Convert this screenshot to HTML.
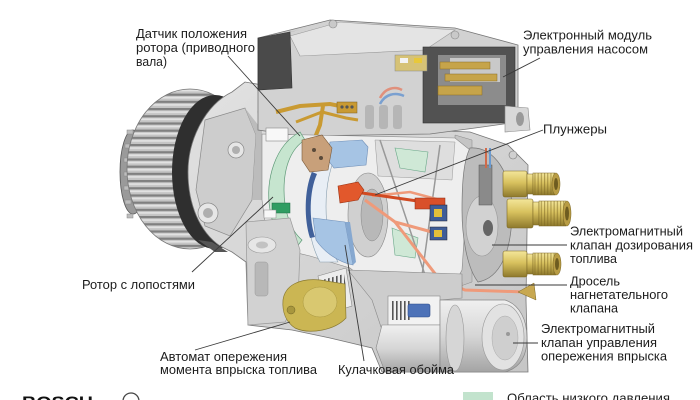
<!DOCTYPE html>
<html><head><meta charset="utf-8">
<style>
html,body{margin:0;padding:0;background:#fff;}
svg{display:block;}
text{font-family:"Liberation Sans","DejaVu Sans",sans-serif;font-size:13px;fill:#1c1c1c;}
</style></head><body>
<svg width="700" height="400" viewBox="0 0 700 400" xmlns="http://www.w3.org/2000/svg">
<defs>
<pattern id="teeth" patternUnits="userSpaceOnUse" width="300" height="7.2">
<rect width="300" height="7.2" fill="#c4c4c4"/>
<rect y="0" width="300" height="2.2" fill="#808080"/>
<rect y="3.2" width="300" height="1.8" fill="#e2e2e2"/>
</pattern>
<pattern id="thr" patternUnits="userSpaceOnUse" width="3.2" height="60">
<rect width="1.1" height="60" fill="#7c6622" opacity="0.55"/>
</pattern>
<pattern id="spr" patternUnits="userSpaceOnUse" width="4" height="60">
<rect width="1.6" height="60" fill="#555"/>
</pattern>
<linearGradient id="brass" x1="0" y1="0" x2="0" y2="1">
<stop offset="0" stop-color="#f3e69a"/>
<stop offset="0.45" stop-color="#d8c15e"/>
<stop offset="1" stop-color="#8e792c"/>
</linearGradient>
<linearGradient id="cyl" x1="0" y1="0" x2="0" y2="1">
<stop offset="0" stop-color="#f0f0f0"/>
<stop offset="0.5" stop-color="#d6d6d6"/>
<stop offset="1" stop-color="#a4a4a4"/>
</linearGradient>
<linearGradient id="hous" x1="0" y1="0" x2="1" y2="1">
<stop offset="0" stop-color="#e2e2e2"/>
<stop offset="1" stop-color="#c6c6c6"/>
</linearGradient>
</defs>

<!-- gear -->
<ellipse cx="133" cy="172" rx="13" ry="42" fill="#9a9a9a" stroke="#555" stroke-width="0.8"/>
<g fill="#bdbdbd" stroke="#888" stroke-width="0.5">
<rect x="127" y="130" width="6" height="4"/><rect x="125" y="144" width="6" height="4"/>
<rect x="124" y="158" width="6" height="4"/><rect x="124" y="172" width="6" height="4"/>
<rect x="124" y="186" width="6" height="4"/><rect x="125" y="200" width="6" height="4"/>
<rect x="127" y="214" width="6" height="4"/>
</g>
<ellipse cx="190" cy="169" rx="63" ry="80" fill="url(#teeth)" stroke="#777" stroke-width="0.8"/>
<ellipse cx="215" cy="172" rx="43" ry="77" fill="#2f2f2f"/>

<!-- main housing -->
<path d="M232,92 C205,105 188,140 188,172 C188,205 200,232 220,246 L232,252 L246,262 L248,325 L292,330 L330,338 L372,348 L382,372 L528,372 L526,300 L528,165 L508,145 L470,132 L420,130 L262,128 L262,85 L245,82 Z" fill="url(#hous)" stroke="#777" stroke-width="0.8"/>
<path d="M205,120 L245,108 L256,135 L252,200 L230,236 L205,226 L196,190 Z" fill="#cdcdcd" stroke="#8a8a8a" stroke-width="0.7"/>
<path d="M245,108 L256,135 L252,200 L262,200 L262,130 Z" fill="#bcbcbc"/>
<circle cx="236" cy="150" r="8" fill="#e6e6e6" stroke="#888" stroke-width="0.7"/>
<circle cx="236" cy="150" r="4" fill="#b0b0b0"/>
<circle cx="208" cy="213" r="10" fill="#e6e6e6" stroke="#888" stroke-width="0.7"/>
<circle cx="208" cy="213" r="5" fill="#aeaeae"/>
<circle cx="262" cy="112" r="4" fill="#cfcfcf" stroke="#777" stroke-width="0.7"/>
<path d="M198,240 L215,252 L228,252 L212,242 Z" fill="#555"/>
<path d="M455,135 L472,140 L472,282 L455,288 Z" fill="#c4c4c4" stroke="#888" stroke-width="0.5"/>

<!-- top module -->
<path d="M258,38 L330,20 L455,28 L518,45 L518,122 L475,128 L430,134 L300,136 L258,130 Z" fill="#d2d2d2" stroke="#777" stroke-width="0.8"/>
<path d="M290,36 L340,22 L455,30 L425,50 L300,56 Z" fill="#e4e4e4" stroke="#999" stroke-width="0.6"/>
<path d="M258,38 L290,32 L292,88 L258,90 Z" fill="#4a4a4a" stroke="#333" stroke-width="0.6"/>
<path d="M258,38 L290,32 L300,30 L268,36 Z" fill="#6a6a6a"/>
<rect x="423" y="47" width="92" height="76" fill="#525252" stroke="#333" stroke-width="0.6"/>
<rect x="438" y="55" width="68" height="50" fill="#8c8c8c"/>
<rect x="450" y="58" width="50" height="24" fill="#c9c9c9"/>
<rect x="440" y="62" width="50" height="7" fill="#c6a44a" stroke="#8a6f24" stroke-width="0.5"/>
<rect x="445" y="74" width="52" height="7" fill="#c6a44a" stroke="#8a6f24" stroke-width="0.5"/>
<rect x="438" y="86" width="44" height="9" fill="#c6a44a" stroke="#8a6f24" stroke-width="0.5"/>
<rect x="395" y="55" width="32" height="16" fill="#d6c276" stroke="#888" stroke-width="0.5"/>
<rect x="400" y="58" width="8" height="5" fill="#f3f3f3"/>
<rect x="414" y="58" width="8" height="5" fill="#e8c83a"/>
<path d="M380,98 C385,88 395,86 402,90" fill="none" stroke="#e0907c" stroke-width="2.5"/>
<path d="M380,104 C385,94 395,92 404,96" fill="none" stroke="#7aa0d0" stroke-width="2.5"/>
<rect x="365" y="105" width="9" height="24" rx="3" fill="#b6b6b6"/>
<rect x="379" y="105" width="9" height="24" rx="3" fill="#b6b6b6"/>
<rect x="393" y="105" width="9" height="24" rx="3" fill="#b6b6b6"/>
<circle cx="333" cy="24" r="4" fill="#c9c9c9" stroke="#888" stroke-width="0.6"/>
<circle cx="455" cy="35" r="4" fill="#c9c9c9" stroke="#888" stroke-width="0.6"/>
<path d="M505,106 L528,108 L530,130 L505,132 Z" fill="#d8d8d8" stroke="#888" stroke-width="0.6"/>
<ellipse cx="520" cy="119" rx="4" ry="7" fill="#999"/>

<!-- brass strips -->
<polyline points="276,112 300,106 330,104 350,108" fill="none" stroke="#c99a32" stroke-width="4"/>
<polyline points="296,122 322,112 346,118 358,120" fill="none" stroke="#c99a32" stroke-width="3"/>
<polyline points="323,106 320,125 314,140" fill="none" stroke="#c99a32" stroke-width="4"/>
<rect x="337" y="102" width="20" height="11" fill="#c99a32" stroke="#7a5e20" stroke-width="0.5"/>
<circle cx="342" cy="107" r="1.6" fill="#555"/><circle cx="347" cy="107" r="1.6" fill="#555"/><circle cx="352" cy="107" r="1.6" fill="#555"/>

<!-- cavity -->
<path d="M262,134 L455,138 L470,150 L462,270 L450,292 L380,292 L350,268 L310,256 L268,246 L262,200 Z" fill="#eeeeee" stroke="#888" stroke-width="0.6"/>
<path d="M375,140 L455,142 L452,180 L378,176 Z" fill="#dedede" stroke="#999" stroke-width="0.5"/>
<path d="M300,132 C275,145 265,180 270,210 C273,230 283,243 296,248 L302,240 C290,230 284,210 284,190 C284,165 292,148 305,140 Z" fill="#c6e5cf" stroke="#5f9a78" stroke-width="0.7"/>
<rect x="266" y="128" width="22" height="13" fill="#f8f8f8" stroke="#888" stroke-width="0.6"/>
<rect x="272" y="203" width="18" height="10" fill="#2f9d62" stroke="#1f6a42" stroke-width="0.5"/>
<rect x="264" y="210" width="12" height="8" fill="#f8f8f8" stroke="#888" stroke-width="0.5"/>
<path d="M322,150 C305,170 302,230 320,262 L338,262 C322,235 322,178 338,152 Z" fill="#e8eef5" stroke="#8aa0b0" stroke-width="0.6"/>
<path d="M312,172 C304,190 304,220 310,238 L315,237 C309,220 309,192 317,174 Z" fill="#40609a"/>
<ellipse cx="368" cy="215" rx="20" ry="42" fill="#d0d0d0" stroke="#888" stroke-width="0.6"/>
<ellipse cx="372" cy="215" rx="11" ry="26" fill="#b8b8b8" stroke="#888" stroke-width="0.5"/>
<path d="M330,142 L362,140 L368,147 L366,165 L334,168 L328,160 Z" fill="#a6c4e4" stroke="#6f8fb8" stroke-width="0.6"/>
<path d="M313,218 L345,222 L353,265 C338,262 324,252 316,240 Z" fill="#a6c4e4" stroke="#6f8fb8" stroke-width="0.6"/>
<path d="M345,222 L350,222 L356,262 L353,265 Z" fill="#86a8d0"/>
<path d="M302,140 L322,135 L332,148 L328,170 L310,172 L302,160 Z" fill="#c8a07a" stroke="#7a5a3a" stroke-width="0.6"/>
<circle cx="314" cy="150" r="2" fill="#5a4a3a"/><circle cx="321" cy="158" r="2" fill="#5a4a3a"/>
<path d="M395,148 L428,152 L425,172 L400,168 Z" fill="#cfe8d6" stroke="#6aa889" stroke-width="0.6"/>
<path d="M392,228 L418,238 L415,258 L395,255 Z" fill="#cfe8d6" stroke="#6aa889" stroke-width="0.6"/>
<line x1="380" y1="140" x2="430" y2="290" stroke="#999" stroke-width="1.5"/>
<line x1="440" y1="145" x2="420" y2="290" stroke="#999" stroke-width="1.5"/>
<polyline points="365,200 395,222 432,232" fill="none" stroke="#ef9a7a" stroke-width="3"/>
<polyline points="395,222 440,280 465,290 525,292" fill="none" stroke="#ef9a7a" stroke-width="3"/>
<polyline points="372,196 410,192 440,200" fill="none" stroke="#ef9a7a" stroke-width="2.5"/>
<line x1="362" y1="193" x2="445" y2="205" stroke="#d14a22" stroke-width="3"/>
<rect x="415" y="198" width="30" height="11" fill="#d9502a" stroke="#8a2a10" stroke-width="0.5"/>
<path d="M338,186 L358,182 L364,190 L358,200 L340,203 Z" fill="#e2582c" stroke="#9a3010" stroke-width="0.6"/>
<rect x="430" y="205" width="17" height="16" fill="#3f5d98" stroke="#223" stroke-width="0.5"/>
<rect x="430" y="227" width="17" height="13" fill="#3f5d98" stroke="#223" stroke-width="0.5"/>
<rect x="434" y="209" width="8" height="8" fill="#e2bf3a"/>
<rect x="434" y="230" width="8" height="7" fill="#e2bf3a"/>
<rect x="440" y="280" width="22" height="12" rx="3" fill="#dc8c60" stroke="#8a4a28" stroke-width="0.5"/>
<rect x="444" y="282" width="14" height="8" fill="url(#spr)"/>

<!-- flange -->
<path d="M470,148 C495,146 512,175 512,210 C512,252 500,278 478,282 C466,266 462,234 462,210 C462,180 464,160 470,148 Z" fill="#bcbcbc" stroke="#777" stroke-width="0.7"/>
<ellipse cx="482" cy="226" rx="16" ry="30" fill="#d2d2d2" stroke="#999" stroke-width="0.6"/>
<ellipse cx="488" cy="228" rx="5" ry="8" fill="#666"/>
<rect x="479" y="165" width="13" height="40" fill="#8a8a8a" stroke="#555" stroke-width="0.5"/>
<line x1="486" y1="148" x2="486" y2="168" stroke="#d06a4a" stroke-width="2"/>
<line x1="490" y1="148" x2="490" y2="168" stroke="#6a9ad0" stroke-width="2"/>
<circle cx="513" cy="155" r="4" fill="#d0d0d0" stroke="#777" stroke-width="0.6"/>

<!-- fittings -->
<rect x="503" y="171" width="24" height="26" rx="2" fill="url(#brass)" stroke="#7a6624" stroke-width="0.6"/>
<rect x="527" y="174" width="6" height="20" fill="url(#brass)" stroke="#7a6624" stroke-width="0.5"/>
<rect x="533" y="173" width="22" height="22" fill="url(#brass)" stroke="#7a6624" stroke-width="0.5"/>
<rect x="533" y="173" width="22" height="22" fill="url(#thr)"/>
<ellipse cx="556" cy="184" rx="4" ry="11" fill="#b89c44" stroke="#7a6624" stroke-width="0.5"/>
<ellipse cx="556" cy="184" rx="2" ry="6" fill="#6e5c20"/>

<rect x="507" y="199" width="26" height="29" rx="2" fill="url(#brass)" stroke="#7a6624" stroke-width="0.6"/>
<rect x="533" y="202" width="6" height="23" fill="url(#brass)" stroke="#7a6624" stroke-width="0.5"/>
<rect x="539" y="201" width="27" height="25" fill="url(#brass)" stroke="#7a6624" stroke-width="0.5"/>
<rect x="539" y="201" width="27" height="25" fill="url(#thr)"/>
<ellipse cx="567" cy="213.5" rx="4" ry="12.5" fill="#b89c44" stroke="#7a6624" stroke-width="0.5"/>
<ellipse cx="567" cy="213.5" rx="2" ry="7" fill="#6e5c20"/>

<rect x="503" y="251" width="24" height="26" rx="2" fill="url(#brass)" stroke="#7a6624" stroke-width="0.6"/>
<rect x="527" y="254" width="6" height="20" fill="url(#brass)" stroke="#7a6624" stroke-width="0.5"/>
<rect x="533" y="253" width="23" height="22" fill="url(#brass)" stroke="#7a6624" stroke-width="0.5"/>
<rect x="533" y="253" width="23" height="22" fill="url(#thr)"/>
<ellipse cx="557" cy="264" rx="4" ry="11" fill="#b89c44" stroke="#7a6624" stroke-width="0.5"/>
<ellipse cx="557" cy="264" rx="2" ry="6" fill="#6e5c20"/>
<path d="M518,292 L534,283 L536,300 Z" fill="#c8a850" stroke="#7a6624" stroke-width="0.5"/>

<!-- bottom -->
<path d="M348,270 L462,274 L462,298 L440,300 L440,330 L382,330 L372,300 Z" fill="#cdcdcd" stroke="#888" stroke-width="0.6"/>
<rect x="388" y="296" width="52" height="29" fill="#f2f2f2" stroke="#888" stroke-width="0.6"/>
<rect x="392" y="301" width="18" height="19" fill="url(#spr)"/>
<rect x="408" y="304" width="22" height="13" rx="2" fill="#4d72b8" stroke="#2d4a88" stroke-width="0.6"/>
<path d="M382,325 L440,325 L440,372 L385,372 L376,348 Z" fill="url(#cyl)" stroke="#888" stroke-width="0.6"/>
<path d="M440,300 L505,300 C520,305 527,320 527,338 C527,356 520,368 505,372 L440,372 Z" fill="url(#cyl)" stroke="#888" stroke-width="0.7"/>
<ellipse cx="455" cy="338" rx="9" ry="33" fill="#d6d6d6" stroke="#999" stroke-width="0.6"/>
<ellipse cx="503" cy="337" rx="21" ry="33" fill="#e2e2e2" stroke="#999" stroke-width="0.6"/>
<ellipse cx="505" cy="338" rx="13" ry="22" fill="#cfcfcf" stroke="#aaa" stroke-width="0.5"/>
<circle cx="508" cy="334" r="2" fill="#999"/>

<!-- bracket -->
<path d="M246,222 L290,218 L300,250 L298,300 L285,322 L248,325 Z" fill="#d2d2d2" stroke="#999" stroke-width="0.7"/>
<ellipse cx="262" cy="245" rx="14" ry="8" fill="#e6e6e6" stroke="#999" stroke-width="0.6"/>
<ellipse cx="262" cy="245" rx="6" ry="3.5" fill="#c2c2c2"/>
<rect x="255" y="262" width="13" height="34" rx="3" fill="#b8b8b8" stroke="#999" stroke-width="0.5"/>

<!-- spring & advance -->
<path d="M318,276 L346,268 L352,306 L326,314 Z" fill="#ececec" stroke="#888" stroke-width="0.6"/>
<path d="M322,280 L344,274 L348,302 L328,308 Z" fill="url(#spr)"/>
<path d="M283,300 C285,285 300,278 320,280 L345,284 L346,318 C335,330 310,335 295,328 C286,322 282,312 283,300 Z" fill="#cbb653" stroke="#8a7a30" stroke-width="0.7"/>
<ellipse cx="320" cy="302" rx="17" ry="15" fill="#d9c870" stroke="#a8963e" stroke-width="0.5"/>
<circle cx="291" cy="310" r="4" fill="#a8963e" stroke="#6e6224" stroke-width="0.5"/>

<!-- leader lines -->
<g stroke="#3a3a3a" stroke-width="0.9" fill="none">
<line x1="228" y1="56" x2="300" y2="136"/>
<line x1="540" y1="58" x2="503" y2="77"/>
<line x1="543" y1="130" x2="375" y2="195"/>
<line x1="192" y1="272" x2="273" y2="197"/>
<line x1="195" y1="350" x2="290" y2="322"/>
<line x1="345" y1="245" x2="364" y2="361"/>
<line x1="492" y1="245" x2="567" y2="245"/>
<line x1="475" y1="285" x2="567" y2="285"/>
<line x1="513" y1="343" x2="538" y2="343"/>
</g>

<!-- labels -->
<text x="136" y="38" textLength="111" lengthAdjust="spacingAndGlyphs">Датчик положения</text>
<text x="136" y="52" textLength="119" lengthAdjust="spacingAndGlyphs">ротора (приводного</text>
<text x="136" y="66" textLength="31" lengthAdjust="spacingAndGlyphs">вала)</text>
<text x="523" y="39.5" textLength="129" lengthAdjust="spacingAndGlyphs">Электронный модуль</text>
<text x="523" y="53.5" textLength="125" lengthAdjust="spacingAndGlyphs">управления насосом</text>
<text x="543" y="133.5" textLength="64" lengthAdjust="spacingAndGlyphs">Плунжеры</text>
<text x="82" y="289" textLength="113" lengthAdjust="spacingAndGlyphs">Ротор с лопостями</text>
<text x="160" y="361" textLength="127" lengthAdjust="spacingAndGlyphs">Автомат опережения</text>
<text x="160" y="374" textLength="157" lengthAdjust="spacingAndGlyphs">момента впрыска топлива</text>
<text x="338" y="374" textLength="116" lengthAdjust="spacingAndGlyphs">Кулачковая обойма</text>
<text x="570" y="235.5" textLength="113" lengthAdjust="spacingAndGlyphs">Электромагнитный</text>
<text x="570" y="249.5" textLength="123" lengthAdjust="spacingAndGlyphs">клапан дозирования</text>
<text x="570" y="263" textLength="47" lengthAdjust="spacingAndGlyphs">топлива</text>
<text x="570" y="285.5" textLength="50" lengthAdjust="spacingAndGlyphs">Дросель</text>
<text x="570" y="299" textLength="98" lengthAdjust="spacingAndGlyphs">нагнетательного</text>
<text x="570" y="312.5" textLength="48" lengthAdjust="spacingAndGlyphs">клапана</text>
<text x="541" y="333" textLength="114" lengthAdjust="spacingAndGlyphs">Электромагнитный</text>
<text x="541" y="347" textLength="116" lengthAdjust="spacingAndGlyphs">клапан управления</text>
<text x="541" y="360.5" textLength="126" lengthAdjust="spacingAndGlyphs">опережения впрыска</text>

<!-- bottom legend -->
<text x="22" y="408" style="font-size:17px;font-weight:bold;fill:#111" textLength="71" lengthAdjust="spacingAndGlyphs">BOSCH</text>
<circle cx="131" cy="401" r="8" fill="none" stroke="#444" stroke-width="1.2"/>
<rect x="463" y="392" width="30" height="12" fill="#c2e3cd"/>
<text x="507" y="402.5" textLength="163" lengthAdjust="spacingAndGlyphs">Область низкого давления</text>
</svg>
</body></html>
